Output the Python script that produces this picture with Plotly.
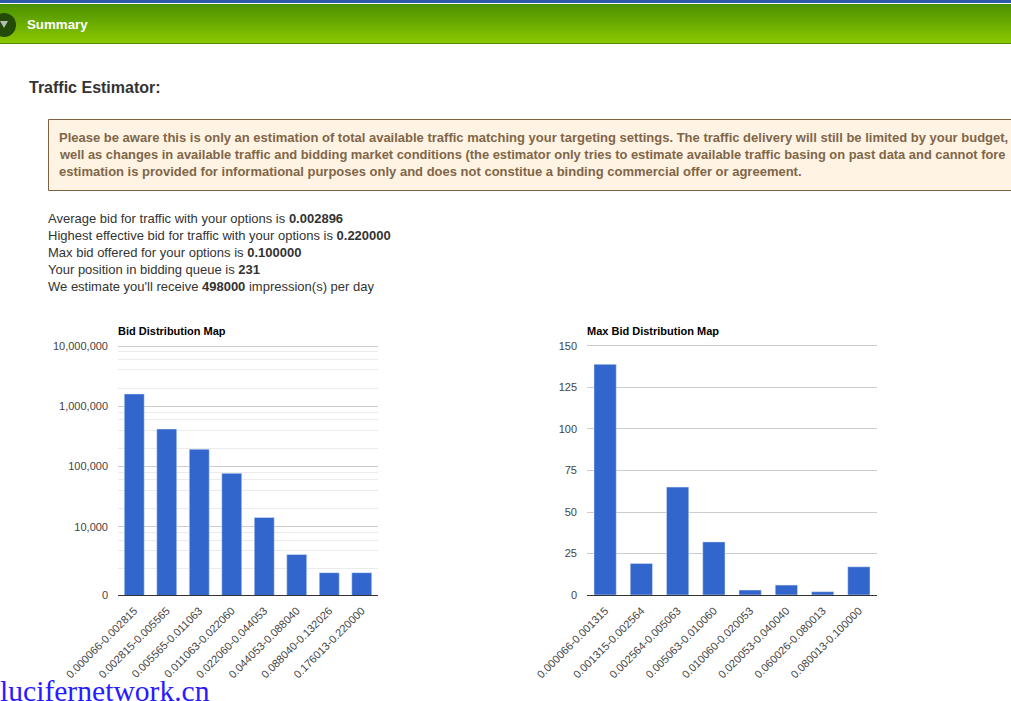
import plotly.graph_objects as go

W, H = 1011, 701

bid_labels = ["0.000066-0.002815", "0.002815-0.005565", "0.005565-0.011063", "0.011063-0.022060",
              "0.022060-0.044053", "0.044053-0.088040", "0.088040-0.132026", "0.176013-0.220000"]
bid_values = [1600000, 419000, 194000, 77000, 14300, 3460, 1730, 1730]
bid_ticks = [736, 10000, 100000, 1000000, 10000000]
bid_ticktext = ["0", "10,000", "100,000", "1,000,000", "10,000,000"]
bid_minor = [2000, 4000, 6000, 8000, 20000, 40000, 60000, 80000,
             200000, 400000, 600000, 800000, 2000000, 4000000, 6000000, 8000000]

max_labels = ["0.000066-0.001315", "0.001315-0.002564", "0.002564-0.005063", "0.005063-0.010060",
              "0.010060-0.020053", "0.020053-0.040040", "0.060026-0.080013", "0.080013-0.100000"]
max_values = [139, 19, 65, 32, 3, 6, 2, 17]
max_ticks = [0, 25, 50, 75, 100, 125, 150]

notice_lines = [
    "Please be aware this is only an estimation of total available traffic matching your targeting settings. The traffic delivery will still be limited by your budget,",
    "well as changes in available traffic and bidding market conditions (the estimator only tries to estimate available traffic basing on past data and cannot fore",
    "estimation is provided for informational purposes only and does not constitue a binding commercial offer or agreement.",
]
stat_lines = [
    "Average bid for traffic with your options is <b>0.002896</b>",
    "Highest effective bid for traffic with your options is <b>0.220000</b>",
    "Max bid offered for your options is <b>0.100000</b>",
    "Your position in bidding queue is <b>231</b>",
    "We estimate you'll receive <b>498000</b> impression(s) per day",
]

FONT = "Liberation Sans"
BLUE = "#3366cc"


def fx(px):
    return px / W


def fy(px):
    return 1 - px / H


def rect(x0, y0, x1, y1, fill, line=None):
    return dict(type="rect", xref="paper", yref="paper", x0=fx(x0), x1=fx(x1), y0=fy(y0), y1=fy(y1),
                fillcolor=fill, line=dict(color=line or fill, width=1 if line else 0), layer="below")


def texto(x, y, s, size, color, family=FONT):
    return dict(xref="paper", yref="paper", x=fx(x), y=fy(y), text=s, showarrow=False, xanchor="left",
                yanchor="middle", align="left", borderpad=0, borderwidth=0,
                font=dict(family=family, size=size, color=color))


shapes = [rect(0, 0, W, 3, "#3058a8"), rect(0, 4, W, 5, "#4a8a00")]
# green header gradient, one strip per pixel
for i in range(5, 43):
    t = (i - 5) / 37
    c = "rgb(%d,%d,0)" % (78 + t * 60, 147 + t * 53)
    shapes.append(rect(0, i, W, i + 1, c))
shapes.append(rect(0, 43, W, 44, "#4f8a00"))
shapes.append(dict(type="circle", xref="paper", yref="paper", x0=fx(-8), x1=fx(16), y0=fy(37), y1=fy(13),
                   fillcolor="#234a06", line=dict(width=0)))
shapes.append(dict(type="path", xref="paper", yref="paper", line=dict(width=0), fillcolor="#b4bcb4",
                   path="M %f,%f L %f,%f L %f,%f Z" % (fx(0), fy(21), fx(8), fy(21), fx(4), fy(28))))
shapes.append(rect(48.5, 119.5, W + 10, 190.5, "#fff3e3", "#7f633f"))

annotations = [
    texto(27, 24.5, "<b>Summary</b>", 13.3, "white"),
    texto(29, 87.5, "<b>Traffic Estimator:</b>", 16, "#333333"),
    texto(118, 331, "<b>Bid Distribution Map</b>", 11, "black"),
    texto(587, 331, "<b>Max Bid Distribution Map</b>", 11, "black"),
    texto(0, 691, "lucifernetwork.cn", 29.6, "#2a1aff", "Liberation Serif"),
]
for i, linea in enumerate(notice_lines):
    # second line only just fits the page
    annotations.append(texto(59, 137.5 + i * 17, "<b>" + linea + "</b>", 12.9 if i == 1 else 13, "#806648"))
for i, linea in enumerate(stat_lines):
    annotations.append(texto(48, 218.5 + i * 17, linea, 13, "#333333"))

fig = go.Figure()
fig.add_trace(go.Bar(x=bid_labels, y=bid_values, marker_color=BLUE, xaxis="x", yaxis="y"))
fig.add_trace(go.Bar(x=max_labels, y=max_values, marker_color=BLUE, xaxis="x2", yaxis="y2"))

tick_font = dict(family=FONT, size=11, color="#444444")
eje_x = dict(showline=True, linecolor="#333333", linewidth=1, tickangle=-45, tickfont=tick_font, automargin=False,
             showgrid=False, ticks="", ticklabelstandoff=4, tickmode="linear", dtick=1)

# ranges run two pixels past the top tick, plotly drops a gridline sitting on the end
fig.update_layout(
    width=W, height=H, margin=dict(l=0, r=0, t=0, b=0), autosize=False,
    paper_bgcolor="white", plot_bgcolor="rgba(0,0,0,0)", showlegend=False, bargap=0.385,
    shapes=shapes, annotations=annotations,
    xaxis=dict(domain=[fx(118), fx(378)], anchor="y", **eje_x),
    yaxis=dict(domain=[fy(595), fy(344)], anchor="x", type="log", range=[2.867, 7.0332], automargin=False,
               tickmode="array", tickvals=bid_ticks, ticktext=bid_ticktext, tickfont=tick_font,
               gridcolor="#cccccc", gridwidth=1, zeroline=False, ticks="", ticklabelstandoff=9,
               minor=dict(tickmode="array", tickvals=bid_minor, showgrid=True, gridcolor="#ebebeb",
                          gridwidth=1, ticks="")),
    xaxis2=dict(domain=[fx(587), fx(877)], anchor="y2", **eje_x),
    yaxis2=dict(domain=[fy(595), fy(344)], anchor="x2", range=[0, 151.2], automargin=False,
                tickmode="array", tickvals=max_ticks, tickfont=tick_font,
                gridcolor="#cccccc", gridwidth=1, zeroline=False, ticks="", ticklabelstandoff=9),
)

fig.write_html("out.html", config=dict(displayModeBar=False),
               post_script="document.body.style.margin='0';document.body.style.overflow='hidden';")
